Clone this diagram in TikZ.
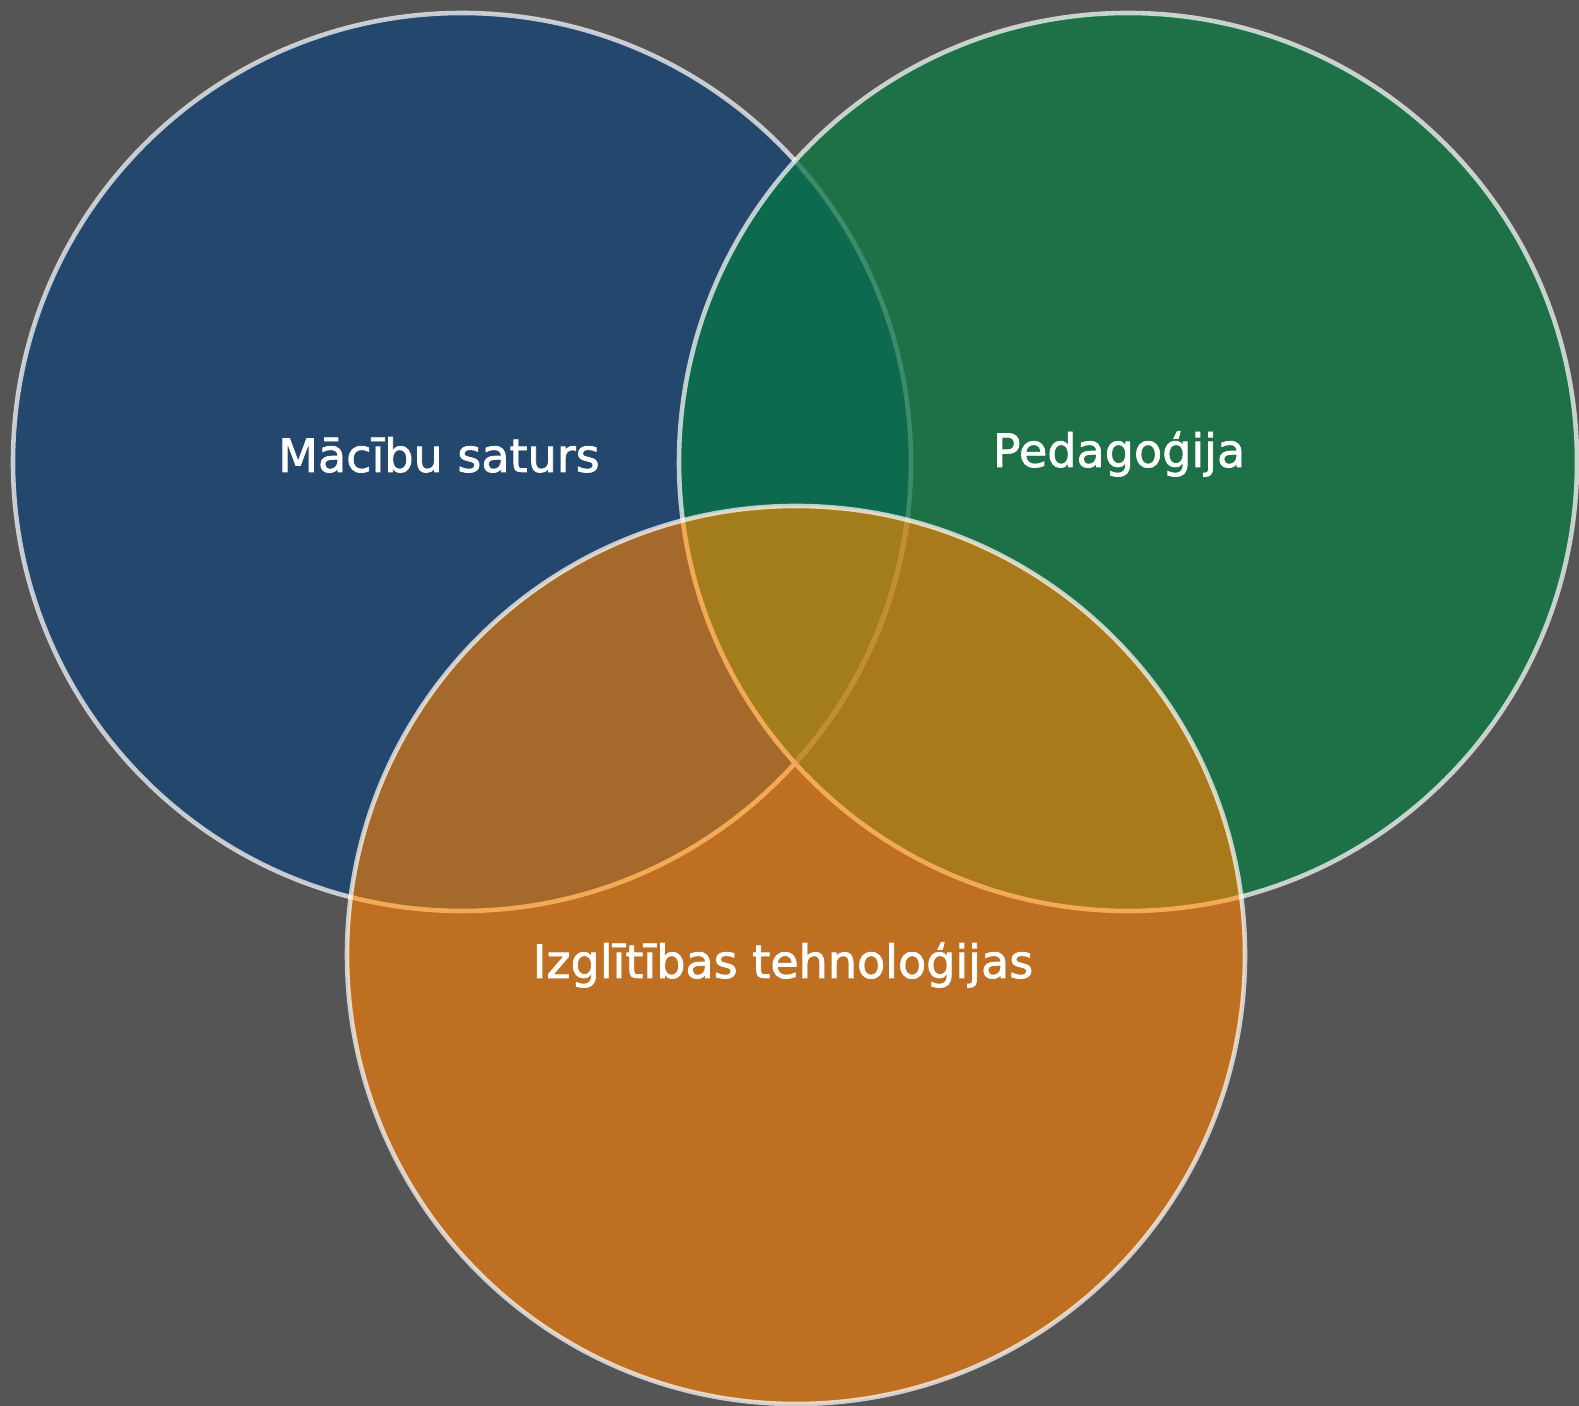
\documentclass[tikz,border=0pt]{standalone}
\usepackage{fontspec}
\usepackage{xcolor}
\newfontfamily\vennfont[FakeBold=1.6]{DejaVu Sans}
\usetikzlibrary{positioning}
\definecolor{bggray}{RGB}{85, 85, 85}
\definecolor{contentblue}{RGB}{36, 71, 110}
\definecolor{pedagreen}{RGB}{30, 112, 71}
\definecolor{techorange}{RGB}{190, 111, 34}
\definecolor{bluegreen}{RGB}{13, 106, 79}
\definecolor{blueorange}{RGB}{165, 106, 43}
\definecolor{greenorange}{RGB}{168, 122, 28}
\definecolor{allthree}{RGB}{163, 125, 28}
\definecolor{edgeorange}{RGB}{242, 170, 86}
\definecolor{edgefaint}{RGB}{60, 140, 108}
\definecolor{edgefaintorange}{RGB}{192, 142, 52}
\def\vennr{4.49}

\begin{document}
\begin{tikzpicture}[
    outline/.style={
        draw=white,
        draw opacity=0.72,
        line width=1.3pt
    },
    inline/.style={
        draw=#1,
        line width=1.3pt
    },
    vennlabel/.style={
        text=white,
        anchor=base,
        inner sep=0pt,
        font=\vennfont\fontsize{13.1}{16}\selectfont
    }
]
    % Canvas
    \useasboundingbox (0, 0) rectangle (15.79, 14.06);
    \fill[bggray] (0, 0) rectangle (15.79, 14.06);

    % Circle centres
    \coordinate (content) at (4.62, 9.44);
    \coordinate (pedagogy) at (11.28, 9.44);
    \coordinate (edtech) at (7.96, 4.51);

    % Blue circle
    \fill[contentblue] (content) circle (\vennr);
    \draw[outline] (content) circle (\vennr);

    % Green circle and its overlap with blue
    \fill[pedagreen] (pedagogy) circle (\vennr);
    \begin{scope}
        \clip (content) circle (\vennr);
        \fill[bluegreen] (pedagogy) circle (\vennr);
    \end{scope}
    \begin{scope}
        \clip (pedagogy) circle (\vennr);
        \draw[inline=edgefaint] (content) circle (\vennr);
    \end{scope}
    \draw[outline] (pedagogy) circle (\vennr);

    % Orange circle with its overlaps
    \fill[techorange] (edtech) circle (\vennr);
    \begin{scope}
        \clip (edtech) circle (\vennr);
        \fill[blueorange] (content) circle (\vennr);
        \fill[greenorange] (pedagogy) circle (\vennr);
        \begin{scope}
            \clip (content) circle (\vennr);
            \fill[allthree] (pedagogy) circle (\vennr);
        \end{scope}
        \draw[inline=edgeorange] (content) circle (\vennr);
        \begin{scope}
            \clip (pedagogy) circle (\vennr);
            \draw[inline=edgefaintorange] (content) circle (\vennr);
        \end{scope}
        \draw[inline=edgeorange] (pedagogy) circle (\vennr);
    \end{scope}
    \draw[outline] (edtech) circle (\vennr);

    % Labels
    \node[vennlabel] (contentlabel) at (4.39, 9.34) {Mācību saturs};
    \node[vennlabel] (pedagogylabel) at (11.19, 9.39) {Pedagoģija};
    \node[vennlabel] (edtechlabel) at (7.83, 4.28) {Izglītības tehnoloģijas};
\end{tikzpicture}
\end{document}
